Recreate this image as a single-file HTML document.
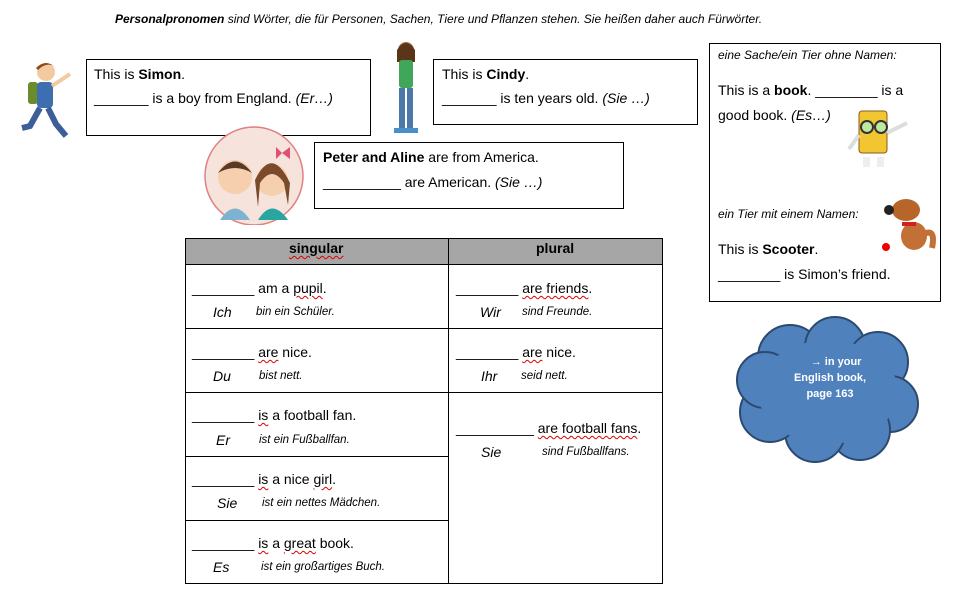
<!DOCTYPE html>
<html><head><meta charset="utf-8"><style>
body{margin:0;width:958px;height:615px;background:#fff;font-family:"Liberation Sans",Arial,sans-serif;color:#000;position:relative;overflow:hidden}
.a{position:absolute;white-space:nowrap}
.box{position:absolute;border:1px solid #000;box-sizing:border-box}
.t{font-size:14px}
.s{font-size:11.5px;font-style:italic}
.p{font-size:14px;font-style:italic}
.w{text-decoration:underline wavy #d00;text-decoration-thickness:1px;text-underline-offset:2px}
</style></head><body>
<div class="a" style="left:115px;top:12px;font-size:12px;font-style:italic"><b>Personalpronomen</b> sind Wörter, die für Personen, Sachen, Tiere und Pflanzen stehen. Sie heißen daher auch Fürwörter.</div>

<svg class="a" style="left:18px;top:58px" width="60" height="85">
<circle cx="28" cy="14" r="9" fill="#f2c9a0"/><path d="M18 10 Q28 0 38 10 L36 8 Q28 4 20 12Z" fill="#8b4a1c"/>
<rect x="10" y="24" width="10" height="22" rx="3" fill="#6a8c2a"/>
<rect x="19" y="24" width="16" height="26" rx="4" fill="#3d6fb0"/>
<path d="M34 28 L52 16" stroke="#f2c9a0" stroke-width="4"/>
<path d="M22 50 L12 68 L4 70" stroke="#3d5e99" stroke-width="6" fill="none"/>
<path d="M30 50 L38 66 L48 78" stroke="#3d5e99" stroke-width="6" fill="none"/>
</svg>
<div class="box" style="left:86px;top:59px;width:285px;height:77px"></div>
<div class="a t" style="left:94px;top:66px">This is <b>Simon</b>.</div>
<div class="a t" style="left:94px;top:90px">_______ is a boy from England. <i>(Er…)</i></div>

<svg class="a" style="left:388px;top:38px" width="40" height="100">
<circle cx="18" cy="12" r="8" fill="#a06a40"/><path d="M9 12 Q18 -2 27 12 L27 24 L9 24Z" fill="#5a3518"/>
<rect x="11" y="22" width="14" height="28" rx="3" fill="#3fa65a"/>
<rect x="11" y="50" width="6" height="40" fill="#4a78a8"/><rect x="19" y="50" width="6" height="40" fill="#4a78a8"/>
<rect x="6" y="90" width="12" height="5" fill="#4a90c8"/><rect x="18" y="90" width="12" height="5" fill="#4a90c8"/>
</svg>
<div class="box" style="left:433px;top:59px;width:265px;height:66px"></div>
<div class="a t" style="left:442px;top:66px">This is <b>Cindy</b>.</div>
<div class="a t" style="left:442px;top:90px">_______ is ten years old. <i>(Sie …)</i></div>

<svg class="a" style="left:200px;top:125px" width="110" height="100">
<circle cx="54" cy="51" r="49" fill="#f6e4dc" stroke="#e08080" stroke-width="1.5"/>
<circle cx="35" cy="52" r="17" fill="#f5cfae"/><path d="M18 48 Q35 25 52 48 Q35 38 18 48Z" fill="#5a3a24"/>
<circle cx="72" cy="55" r="16" fill="#f5cfae"/><path d="M55 55 Q72 20 90 58 L88 80 L84 58 Q72 40 60 58 L58 82Z" fill="#7a4a2a"/>
<path d="M20 95 Q35 72 50 95Z" fill="#7fb2d0"/><path d="M58 95 Q72 72 88 95Z" fill="#2aa6a0"/>
<path d="M82 28 l8-6 l0 12z M82 28 l-6-6 l0 12z" fill="#e05070"/>
</svg>
<div class="box" style="left:314px;top:142px;width:310px;height:67px"></div>
<div class="a t" style="left:323px;top:149px"><b>Peter and Aline</b> are from America.</div>
<div class="a t" style="left:323px;top:174px">__________ are American. <i>(Sie …)</i></div>

<div class="box" style="left:709px;top:43px;width:232px;height:259px"></div>
<div class="a s" style="left:718px;top:48px;font-size:12px">eine Sache/ein Tier ohne Namen:</div>
<div class="a t" style="left:718px;top:82px">This is a <b>book</b>. ________ is a</div>
<div class="a t" style="left:718px;top:107px">good book. <i>(Es…)</i></div>
<svg class="a" style="left:845px;top:105px" width="78" height="70">
<rect x="14" y="6" width="28" height="42" rx="3" fill="#f2c630" stroke="#8a5a20"/>
<circle cx="22" cy="22" r="6" fill="#bfe8a0" stroke="#333" stroke-width="2"/><circle cx="36" cy="22" r="6" fill="#bfe8a0" stroke="#333" stroke-width="2"/>
<path d="M42 28 L62 18" stroke="#ddd" stroke-width="4"/><path d="M14 30 L4 44" stroke="#ddd" stroke-width="4"/>
<rect x="18" y="52" width="7" height="10" fill="#eee"/><rect x="32" y="52" width="7" height="10" fill="#eee"/>
</svg>
<div class="a s" style="left:718px;top:207px;font-size:12px">ein Tier mit einem Namen:</div>
<svg class="a" style="left:880px;top:190px" width="58" height="66">
<ellipse cx="26" cy="20" rx="14" ry="11" fill="#b8652a"/><circle cx="9" cy="20" r="5" fill="#222"/>
<ellipse cx="34" cy="46" rx="13" ry="14" fill="#c27035"/><path d="M44 44 Q56 38 52 58" stroke="#c27035" stroke-width="6" fill="none"/>
<rect x="22" y="32" width="14" height="4" fill="#d02020"/><circle cx="6" cy="57" r="4" fill="#e00"/>
</svg>
<div class="a t" style="left:718px;top:241px">This is <b>Scooter</b>.</div>
<div class="a t" style="left:718px;top:266px">________ is Simon’s friend.</div>

<svg class="a" style="left:730px;top:312px" width="196" height="156">
<g fill="#4f81bd" stroke="#2c4a70" stroke-width="2">
<circle cx="60" cy="45" r="32"/><circle cx="105" cy="35" r="30"/><circle cx="148" cy="50" r="30"/>
<circle cx="160" cy="92" r="28"/><circle cx="130" cy="118" r="30"/><circle cx="85" cy="120" r="30"/>
<circle cx="40" cy="100" r="30"/><circle cx="35" cy="68" r="28"/>
</g>
<ellipse cx="98" cy="80" rx="70" ry="52" fill="#4f81bd"/>
</svg>
<div class="a" style="left:785px;top:354px;width:90px;text-align:center;color:#fff;font-size:11px;font-weight:bold;line-height:16px;white-space:normal">&nbsp;&nbsp;&nbsp;&nbsp;→ in your English book, page 163</div>

<div class="a" style="left:185px;top:238px;width:477px;height:26px;background:#a6a6a6"></div>
<svg class="a" style="left:0;top:0" width="958" height="615">
<g stroke="#000" stroke-width="1" fill="none">
<rect x="185.5" y="238.5" width="477" height="345"/>
<line x1="448.5" y1="238" x2="448.5" y2="584"/>
<line x1="185" y1="264.5" x2="663" y2="264.5"/>
<line x1="185" y1="328.5" x2="663" y2="328.5"/>
<line x1="185" y1="392.5" x2="663" y2="392.5"/>
<line x1="185" y1="456.5" x2="448" y2="456.5"/>
<line x1="185" y1="520.5" x2="448" y2="520.5"/>
</g></svg>
<div class="a" style="left:289px;top:240px;font-size:14px;font-weight:bold"><span class="w">singular</span></div>
<div class="a" style="left:536px;top:240px;font-size:14px;font-weight:bold">plural</div>

<div class="a t" style="left:192px;top:280px">________ am a <span class="w">pupil</span>.</div>
<div class="a p" style="left:213px;top:304px">Ich</div><div class="a s" style="left:256px;top:306px">bin ein Schüler.</div>
<div class="a t" style="left:192px;top:344px">________ <span class="w">are</span> nice.</div>
<div class="a p" style="left:213px;top:368px">Du</div><div class="a s" style="left:259px;top:370px">bist nett.</div>
<div class="a t" style="left:192px;top:407px">________ <span class="w">is</span> a football fan.</div>
<div class="a p" style="left:216px;top:432px">Er</div><div class="a s" style="left:259px;top:434px">ist ein Fußballfan.</div>
<div class="a t" style="left:192px;top:471px">________ <span class="w">is</span> a nice <span class="w">girl</span>.</div>
<div class="a p" style="left:217px;top:495px">Sie</div><div class="a s" style="left:262px;top:497px">ist ein nettes Mädchen.</div>
<div class="a t" style="left:192px;top:535px">________ <span class="w">is</span> a <span class="w">great</span> book.</div>
<div class="a p" style="left:213px;top:559px">Es</div><div class="a s" style="left:261px;top:561px">ist ein großartiges Buch.</div>

<div class="a t" style="left:456px;top:280px">________ <span class="w">are friends</span>.</div>
<div class="a p" style="left:480px;top:304px">Wir</div><div class="a s" style="left:522px;top:306px">sind Freunde.</div>
<div class="a t" style="left:456px;top:344px">________ <span class="w">are</span> nice.</div>
<div class="a p" style="left:481px;top:368px">Ihr</div><div class="a s" style="left:521px;top:370px">seid nett.</div>
<div class="a t" style="left:456px;top:420px">__________ <span class="w">are football fans</span>.</div>
<div class="a p" style="left:481px;top:444px">Sie</div><div class="a s" style="left:542px;top:446px">sind Fußballfans.</div>
</body></html>
